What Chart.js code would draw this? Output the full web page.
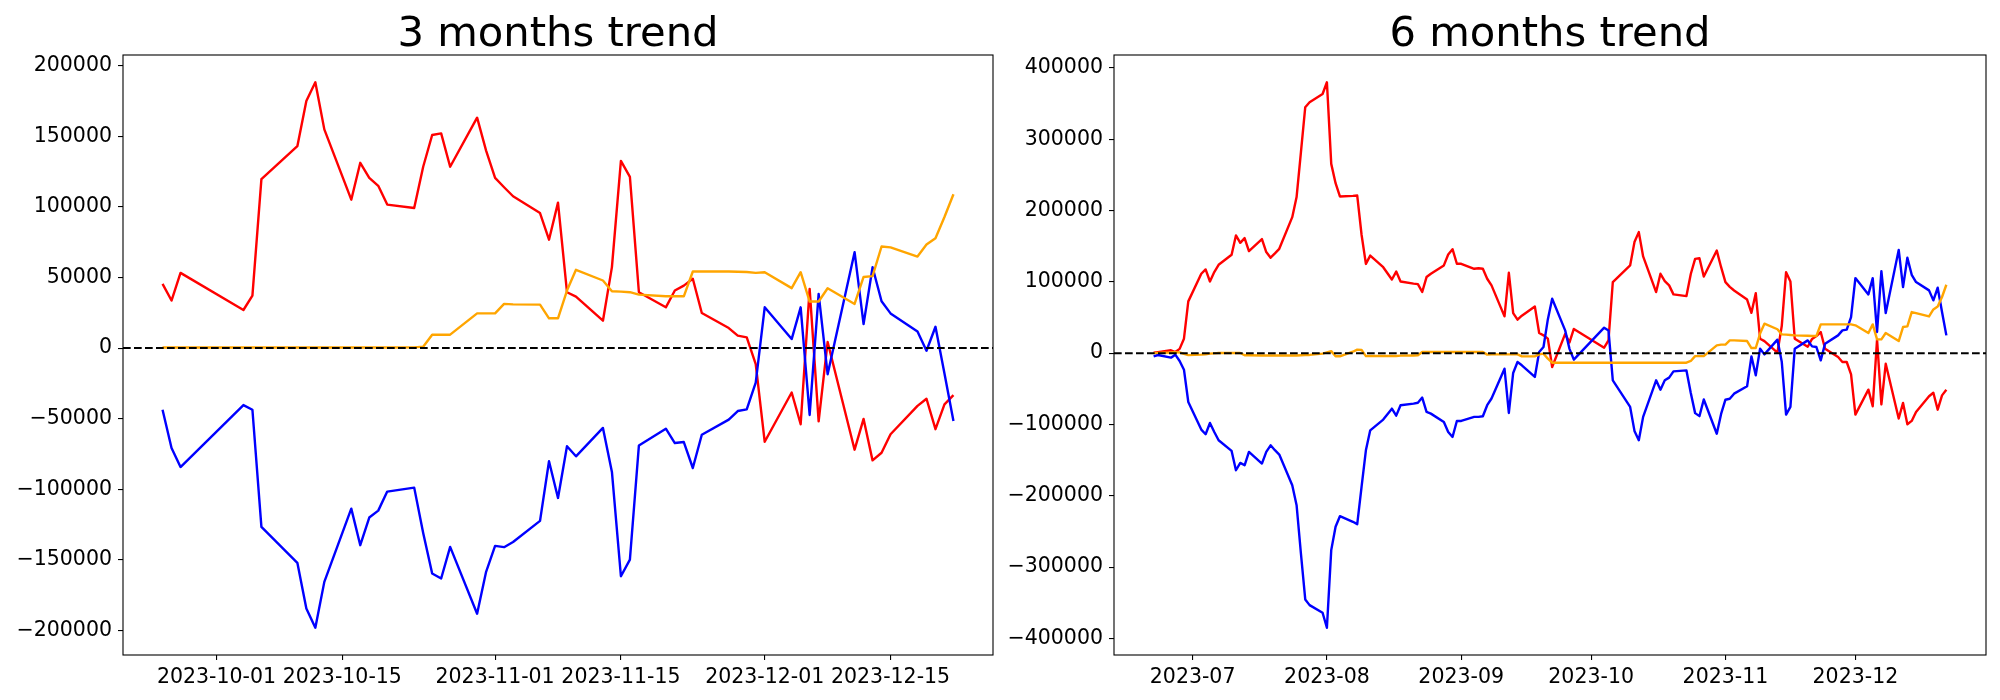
<!DOCTYPE html>
<html>
<head>
<meta charset="utf-8">
<script src="https://cdn.jsdelivr.net/npm/chart.js@4.4.0/dist/chart.umd.min.js"></script>
<style>
  html, body { margin: 0; padding: 0; background: #fff; }
  #wrap { position: relative; width: 2000px; height: 700px; }
  .panel { position: absolute; top: 0; width: 1000px; height: 700px; }
</style>
</head>
<body>
<div id="wrap">
  <div class="panel" style="left:0"><canvas id="chart3" width="1000" height="700"></canvas></div>
  <div class="panel" style="left:1000px"><canvas id="chart6" width="1000" height="700"></canvas></div>
</div>
<script>
const FONT = "'DejaVu Sans', sans-serif";
Chart.defaults.font.family = FONT;

// ---- 3 months (trading days, 2023) ----
const days3 = [
  '09-25','09-26','09-27','10-04','10-05','10-06','10-10','10-11','10-12','10-13',
  '10-16','10-17','10-18','10-19','10-20','10-23','10-24','10-25','10-26','10-27',
  '10-30','10-31','11-01','11-02','11-03','11-06','11-07','11-08','11-09','11-10',
  '11-13','11-14','11-15','11-16','11-17','11-20','11-21','11-22','11-23','11-24',
  '11-27','11-28','11-29','11-30','12-01','12-04','12-05','12-06','12-07','12-08',
  '12-11','12-12','12-13','12-14','12-15','12-18','12-19','12-20','12-21','12-22'
];
const red3 = [
  45500, 33700, 53300, 27000, 37200, 119700, 143100, 175100, 188400, 155000,
  105200, 131300, 120600, 115000, 101700, 99300, 128500, 151000, 152200, 128500,
  163300, 140000, 120600, 114000, 107600, 95700, 76800, 103100, 39600, 36500,
  19400, 57400, 132700, 121300, 39600, 28900, 40800, 44300, 49100, 24900,
  14200, 8800, 7600, -11400, -66400, -31500, -54000, 42000, -51900, 4300,
  -72000, -50200, -79600, -74200, -61100, -41000, -35900, -57500, -39900, -33300
];
const blue3 = [
  -43700, -70800, -84300, -40400, -43700, -126700, -152200, -184600, -198200, -165700,
  -113800, -139700, -120100, -115200, -101700, -98900, -131000, -159800, -163300, -140900,
  -188300, -158600, -140200, -141100, -137400, -122500, -80200, -106200, -69600, -76700,
  -56600, -87800, -161700, -149900, -69100, -57100, -67300, -66600, -85000, -61400,
  -50700, -44600, -43400, -24500, 28900, 6400, 28900, -47400, 38400, -18500,
  68000, 17000, 57300, 33200, 24600, 11800, -1900, 15100, -18000, -51700
];
const orange3 = [
  400, 400, 400, 400, 400, 400, 400, 400, 400, 400,
  400, 400, 400, 400, 400, 500, 1000, 9500, 9500, 9500,
  24600, 24600, 24600, 31300, 31000, 30800, 21100, 21100, 40800, 55500,
  47900, 40300, 40000, 39600, 37900, 36700, 36700, 36700, 54300, 54300,
  54300, 54100, 53900, 53300, 53800, 42500, 53800, 33000, 33000, 42400,
  31300, 50400, 51000, 72000, 71400, 64900, 73400, 77900, 92900, 109000
];
const xTicks3 = ['2023-10-01', '2023-10-15', '2023-11-01', '2023-11-15', '2023-12-01', '2023-12-15'];
const yTicks3 = [-200000, -150000, -100000, -50000, 0, 50000, 100000, 150000, 200000];

// ---- 6 months (trading days, 2023) ----
const days6 = [
  '06-22','06-23','06-26','06-27','06-28','06-29','06-30',
  '07-03','07-04','07-05','07-06','07-07','07-10','07-11','07-12','07-13','07-14',
  '07-17','07-18','07-19','07-20','07-21','07-24','07-25','07-26','07-27','07-28','07-31',
  '08-01','08-02','08-03','08-04','08-07','08-08','08-09','08-10','08-11',
  '08-14','08-16','08-17','08-18','08-21','08-22','08-23','08-24','08-25',
  '08-28','08-29','08-30','08-31',
  '09-01','09-04','09-05','09-06','09-07','09-08','09-11','09-12','09-13','09-14','09-15',
  '09-18','09-19','09-20','09-21','09-22','09-25','09-26','09-27',
  '10-04','10-05','10-06','10-10','10-11','10-12','10-13','10-16','10-17','10-18','10-19','10-20',
  '10-23','10-24','10-25','10-26','10-27','10-30','10-31',
  '11-01','11-02','11-03','11-06','11-07','11-08','11-09','11-10','11-13','11-14','11-15','11-16','11-17',
  '11-20','11-21','11-22','11-23','11-24','11-27','11-28','11-29','11-30',
  '12-01','12-04','12-05','12-06','12-07','12-08','12-11','12-12','12-13','12-14','12-15',
  '12-18','12-19','12-20','12-21','12-22'
];
const red6 = [
  500, 1500, 4000, 1600, 6000, 20300, 72600,
  111300, 117400, 100500, 113700, 123900, 137900, 165000, 154700, 161300, 143100,
  159900, 141700, 133800, 139900, 146300, 190700, 218800, 281600, 344800, 351800, 363400,
  379800, 265400, 238300, 219700, 220500, 221000, 166000, 125100, 136800,
  120500, 103200, 114400, 100500, 97500, 96800, 85700, 106700, 111300,
  123000, 138400, 145800, 125300,
  125300, 118300, 119000, 118300, 104300, 95000, 51600, 112700, 56200, 46900, 52500,
  65500, 28200, 25000, 20300, -19400, 27000, 15000, 34000,
  7700, 17900, 99700, 123000, 155700, 169700, 135600, 85600, 111300, 101000, 95000, 82400,
  80000, 111000, 132200, 133000, 107400, 143800, 120500,
  99500, 93000, 87800, 75200, 56500, 84100, 20200, 16800, 800, 38000, 113500, 100500, 20200,
  9000, 20000, 24000, 29600, 6200, -5400, -12400, -12400, -29700,
  -86200, -51200, -74500, 19000, -71900, -14900, -91700, -69800, -99700, -95000, -82400,
  -60400, -55500, -79300, -59200, -51300
];
const blue6 = [
  -4500, -2600, -6300, -2100, -11000, -23200, -68500,
  -107200, -113700, -97900, -110500, -122200, -137100, -164200, -153900, -157200, -138500,
  -154800, -138500, -129200, -136100, -142200, -185200, -213200, -280900, -345300, -353300, -364000,
  -385000, -276200, -243500, -228600, -236500, -239800, -187500, -136200, -108200,
  -93200, -77800, -87600, -73100, -70800, -69500, -62300, -82400, -84800,
  -96500, -110500, -117500, -95100,
  -95100, -89400, -89400, -88400, -73000, -63600, -21800, -83900, -27800, -12400, -17000,
  -33400, 1600, 8600, 47300, 76300, 31900, 6000, -9100,
  35700, 31900, -38100, -75400, -109000, -122100, -89400, -38100, -51200, -38100, -34300, -25500,
  -24200, -56000, -84100, -88300, -65000, -113000, -85200,
  -65300, -63900, -56800, -46500, -4500, -31000, 6300, -1700, 18900, -12000, -86100, -75400, 6300,
  17900, 9500, 8600, -10100, 13300, 24900, 31900, 32900, 50600,
  105200, 82400, 105200, 29600, 115000, 56200, 144800, 92600, 133700, 109900, 99700,
  88000, 74000, 91700, 57600, 24900
];
const orange6 = [
  0, 400, 1000, 1500, 1000, -1000, -2800,
  -2100, -1700, -700, -300, 200, 200, 200, 200, -3000, -3000,
  -3200, -3200, -3200, -3200, -3200, -3200, -3200, -3000, -2800, -2500, -700,
  1100, 2800, -4400, -4400, 2000, 5000, 4500, -4200, -4000,
  -4000, -4000, -4000, -3500, -3200, -3100, 1600, 1600, 1600,
  1600, 1600, 1600, 1600,
  1600, 1600, 1600, 1600, -2100, -1700, -1700, -1700, -1700, -1700, -4500,
  -4500, -1700, -700, -7800, -13400, -13400, -13400, -13400,
  -13400, -13400, -13400, -13400, -13400, -13400, -13400, -13400, -13400, -13400, -13400, -13400,
  -13400, -11000, -4200, -4200, -4200, 10900, 11900,
  11900, 17900, 17900, 17000, 7200, 7200, 27500, 41300, 33500, 26300, 25900, 25400, 24900,
  24400, 24000, 24000, 40300, 40300, 40300, 40300, 40300, 40300,
  39000, 28200, 40300, 19300, 19300, 28200, 17000, 36600, 37500, 57600, 56200,
  51500, 61300, 65500, 78700, 95900
];
const xTicks6 = ['2023-07', '2023-08', '2023-09', '2023-10', '2023-11', '2023-12'];
const yTicks6 = [-400000, -300000, -200000, -100000, 0, 100000, 200000, 300000, 400000];

// day number from 'MM-DD' / 'YYYY-MM' / 'YYYY-MM-DD'
function toDay(s) {
  if (s.length === 5) s = '2023-' + s;
  if (s.length === 7) s = s + '-01';
  return Date.parse(s) / 86400000;
}

// matplotlib style 5% margins
function padRange(lo, hi) {
  const m = (hi - lo) * 0.05;
  return [lo - m, hi + m];
}

const fmtY = v => (v < 0 ? '\u2212' + (-v) : String(v));

// box around the axes, dashed zero line and the title
const frame = {
  id: 'frame',
  afterDatasetsDraw(chart, args, opts) {
    const { ctx, chartArea: a, scales } = chart;
    ctx.save();
    const y0 = scales.y.getPixelForValue(0);
    ctx.strokeStyle = '#000';
    ctx.lineWidth = 2;
    ctx.setLineDash([7.7, 3.3]);
    ctx.beginPath();
    ctx.moveTo(a.left, y0);
    ctx.lineTo(a.right, y0);
    ctx.stroke();
    ctx.setLineDash([]);
    ctx.lineWidth = 1.1;
    ctx.strokeRect(a.left, a.top, a.right - a.left, a.bottom - a.top);
    ctx.fillStyle = '#000';
    ctx.font = '41.7px ' + FONT;
    ctx.textAlign = 'center';
    ctx.textBaseline = 'alphabetic';
    ctx.fillText(opts.text, (a.left + a.right) / 2, a.top - 9.5);
    ctx.restore();
  }
};

function makeChart(id, title, days, red, blue, orange, xTicks, yTicks, axisWidth, padRight) {
  const xs = days.map(toDay);
  const all = red.concat(blue, orange);
  const [xMin, xMax] = padRange(Math.min(...xs), Math.max(...xs));
  const [yMin, yMax] = padRange(Math.min(...all), Math.max(...all));
  const series = (vals, color) => ({
    data: vals.map((v, i) => ({ x: xs[i], y: v })),
    borderColor: color,
    borderWidth: 2.4,
    pointRadius: 0,
    fill: false,
    tension: 0,
    borderJoinStyle: 'round'
  });
  const tickFont = { family: FONT, size: 20.5 };
  const grid = { drawOnChartArea: false, drawTicks: true, tickLength: 5, color: '#000', lineWidth: 1.1 };

  return new Chart(document.getElementById(id), {
    type: 'line',
    data: { datasets: [series(orange, '#ffa500'), series(blue, '#0000ff'), series(red, '#ff0000')] },
    options: {
      responsive: false,
      animation: false,
      layout: { padding: { top: 55, right: padRight, bottom: 0, left: 0 } },
      plugins: {
        legend: { display: false },
        tooltip: { enabled: false },
        frame: { text: title }
      },
      scales: {
        x: {
          type: 'linear',
          min: xMin,
          max: xMax,
          afterBuildTicks: s => { s.ticks = xTicks.map(t => ({ value: toDay(t) })); },
          afterFit: s => { s.height = 45; },
          grid: grid,
          border: { display: false },
          ticks: {
            autoSkip: false, maxRotation: 0, minRotation: 0, padding: 5,
            color: '#000', font: tickFont,
            callback: (v, i) => xTicks[i]
          }
        },
        y: {
          type: 'linear',
          min: yMin,
          max: yMax,
          afterBuildTicks: s => { s.ticks = yTicks.map(v => ({ value: v })); },
          afterFit: s => { s.width = axisWidth; },
          grid: grid,
          border: { display: false },
          ticks: {
            padding: 6, color: '#000', font: tickFont,
            callback: v => fmtY(v)
          }
        }
      }
    },
    plugins: [frame]
  });
}

makeChart('chart3', '3 months trend', days3, red3, blue3, orange3, xTicks3, yTicks3, 123, 7);
makeChart('chart6', '6 months trend', days6, red6, blue6, orange6, xTicks6, yTicks6, 114, 14);
</script>
</body>
</html>
